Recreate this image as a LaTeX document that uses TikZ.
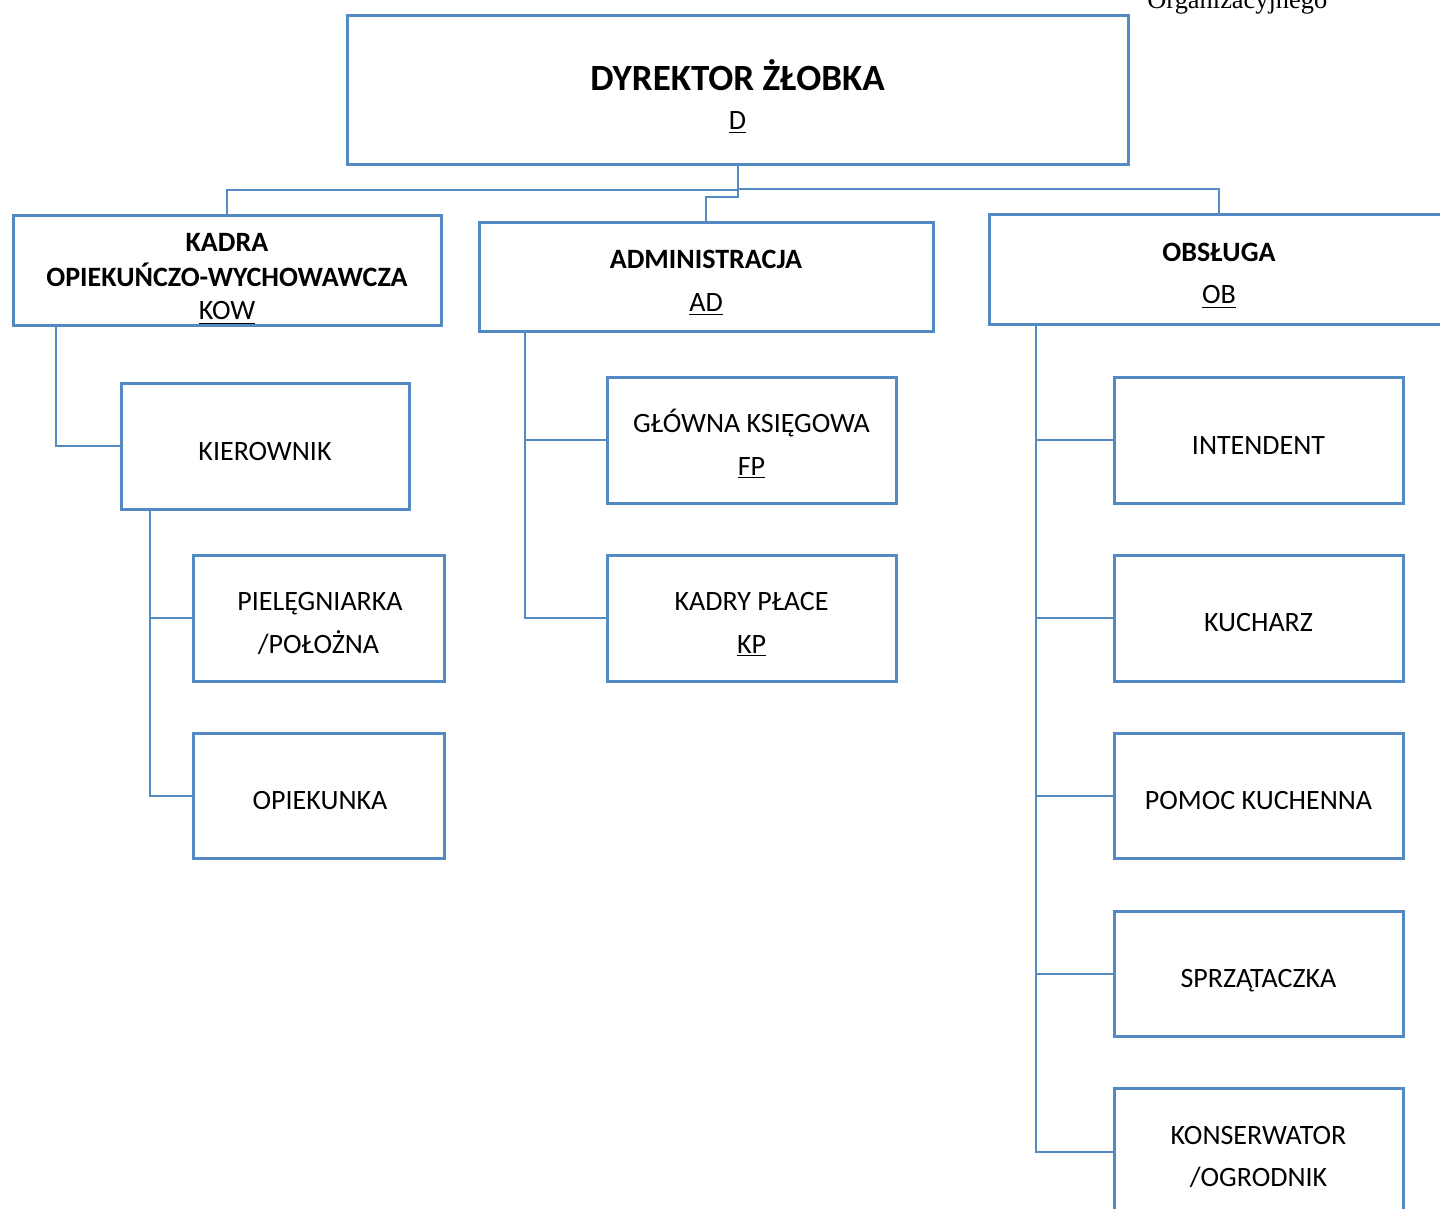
\documentclass[tikz,border=0pt]{standalone}
\usepackage{fontspec}
\setmainfont{Carlito}
\newfontfamily\timesf{Liberation Serif}
\definecolor{boxblue}{RGB}{84,138,196}
\begin{document}
\begin{tikzpicture}[x=0.5pt,y=-0.5pt,
  box/.style={draw=boxblue,line width=1.5pt,fill=white,inner sep=0pt,outer sep=0pt,rectangle},
  conn/.style={draw=boxblue,line width=1pt},
  lbl/.style={anchor=base,inner sep=0pt,font=\fontsize{14}{17}\selectfont},
  hdr/.style={anchor=base,inner sep=0pt,font=\fontsize{14}{17}\selectfont\bfseries},
  big/.style={anchor=base,inner sep=0pt,font=\fontsize{18.5}{22}\selectfont\bfseries}]
\useasboundingbox (0,0) rectangle (1440,1209);
\clip (0,0) rectangle (1440,1209);

% bus coordinates
\coordinate (jl) at (737.5,190);
\coordinate (jr) at (737.5,189);
\coordinate (jm) at (737.5,197);
\coordinate (bk) at (56,0);
\coordinate (bi) at (150,0);
\coordinate (ba) at (525,0);
\coordinate (bo) at (1036,0);

% boxes
\node[box,minimum width=390.5pt,minimum height=74.5pt] (D) at (737.5,90.5) {};
\node[box,minimum width=214pt,minimum height=54.5pt] (KOW) at (227,270.5) {};
\node[box,minimum width=227pt,minimum height=54pt] (AD) at (706,277) {};
\node[box,minimum width=230pt,minimum height=54.5pt] (OB) at (1219,269.5) {};
\node[box,minimum width=144pt,minimum height=63pt] (KIER) at (265,446) {};
\node[box,minimum width=125.5pt,minimum height=63pt] (PIEL) at (318.5,618) {};
\node[box,minimum width=125.5pt,minimum height=62.5pt] (OPK) at (318.5,795.5) {};
\node[box,minimum width=144.5pt,minimum height=63pt] (GK) at (751.5,440) {};
\node[box,minimum width=144.5pt,minimum height=63pt] (KP) at (751.5,618) {};
\node[box,minimum width=144.5pt,minimum height=63pt] (INT) at (1258.5,440) {};
\node[box,minimum width=144.5pt,minimum height=63pt] (KUCH) at (1258.5,618) {};
\node[box,minimum width=144.5pt,minimum height=62.5pt] (POM) at (1258.5,795.5) {};
\node[box,minimum width=144.5pt,minimum height=62.5pt] (SPRZ) at (1258.5,973.5) {};
\node[box,minimum width=144.5pt,minimum height=64pt] (KONS) at (1258.5,1152) {};

% connectors from director
\draw[conn] (D.south) -- (jl) -| (KOW.north);
\draw[conn] (D.south) -- (jr) -| (OB.north);
\draw[conn] (D.south) -- (jm) -| (AD.north);

% KOW branch
\draw[conn] (KOW.south -| bk) |- (KIER.west);
\draw[conn] (KIER.south -| bi) |- (OPK.west);
\draw[conn] (PIEL.west -| bi) -- (PIEL.west);

% AD branch
\draw[conn] (AD.south -| ba) |- (KP.west);
\draw[conn] (GK.west -| ba) -- (GK.west);

% OB branch
\draw[conn] (OB.south -| bo) |- (KONS.west);
\draw[conn] (INT.west -| bo) -- (INT.west);
\draw[conn] (KUCH.west -| bo) -- (KUCH.west);
\draw[conn] (POM.west -| bo) -- (POM.west);
\draw[conn] (SPRZ.west -| bo) -- (SPRZ.west);

% texts
\node[anchor=base west,inner sep=0pt,font=\timesf\fontsize{13.2}{15}\selectfont] (org) at (1147,9) {Organizacyjnego};
\node[big] (tD1) at (737.5,91) {DYREKTOR ŻŁOBKA};
\node[lbl] (tD2) at (737.5,130) {\underline{D}};
\node[hdr] (tK1) at (227,252) {KADRA};
\node[hdr] (tK2) at (227,286) {OPIEKUŃCZO-WYCHOWAWCZA};
\node[lbl] (tK3) at (227,320) {\underline{KOW}};
\node[hdr] (tA1) at (706,269) {ADMINISTRACJA};
\node[lbl] (tA2) at (706,312) {\underline{AD}};
\node[hdr] (tO1) at (1219,262) {OBSŁUGA};
\node[lbl] (tO2) at (1219,304) {\underline{OB}};
\node[lbl] (tKi) at (265,460) {KIEROWNIK};
\node[lbl] (tP1) at (320,610) {PIELĘGNIARKA};
\node[lbl] (tP2) at (318.5,653) {/POŁOŻNA};
\node[lbl] (tOp) at (320,809) {OPIEKUNKA};
\node[lbl] (tG1) at (751.5,432) {GŁÓWNA KSIĘGOWA};
\node[lbl] (tG2) at (751.5,475) {\underline{FP}};
\node[lbl] (tKP1) at (751.5,610) {KADRY PŁACE};
\node[lbl] (tKP2) at (751.5,653) {\underline{KP}};
\node[lbl] (tI) at (1258.5,454) {INTENDENT};
\node[lbl] (tKu) at (1258.5,631) {KUCHARZ};
\node[lbl] (tPo) at (1258.5,809) {POMOC KUCHENNA};
\node[lbl] (tS) at (1258.5,987) {SPRZĄTACZKA};
\node[lbl] (tKo1) at (1258.5,1144) {KONSERWATOR};
\node[lbl] (tKo2) at (1258.5,1186) {/OGRODNIK};
\end{tikzpicture}
\end{document}
